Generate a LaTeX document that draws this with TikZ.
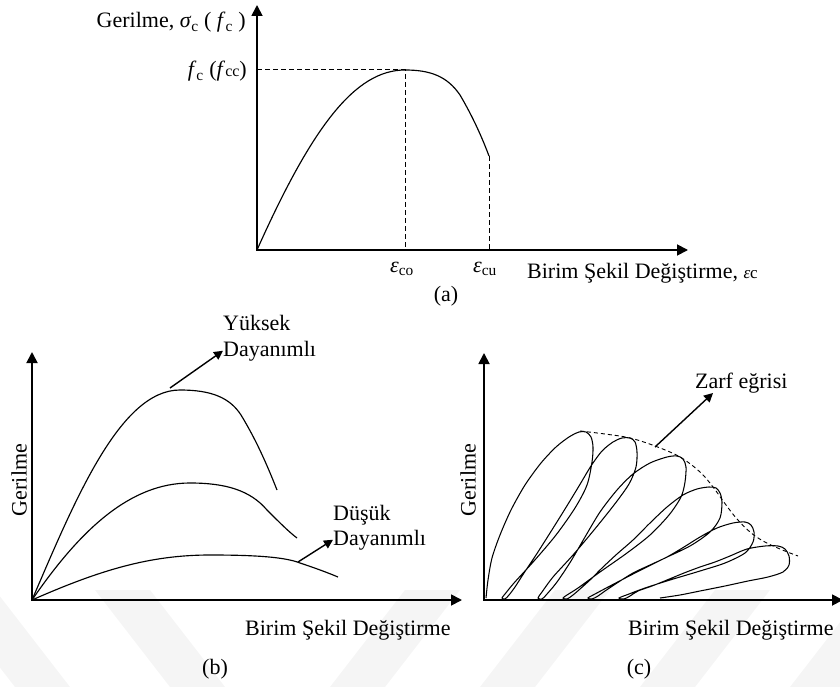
\documentclass[tikz,border=0pt]{standalone}
\usepackage{fontspec}
\setmainfont{Liberation Serif}
\usetikzlibrary{arrows.meta}
\begin{document}
\begin{tikzpicture}[x=1pt,y=-1pt,
  axes/.style={line width=1.8pt,{Triangle[length=11pt,width=11pt]}-{Triangle[length=11pt,width=11pt]}},
  curve/.style={line width=1.15pt},
  guide/.style={line width=1pt,dash pattern=on 5pt off 3pt},
  env/.style={line width=0.9pt,dash pattern=on 4pt off 3pt},
  lbl/.style={font=\fontsize{22}{26}\selectfont,inner sep=0pt},
  pointer/.style={line width=1.4pt,-{Triangle[length=9pt,width=9pt]}},
  wm/.style={fill=black!4,draw=none},
]
\useasboundingbox (0,0) rectangle (840,687);
% faint watermark bands
\fill[wm] (-60,590) -- (-5,590) -- (70,687) -- (15,687) -- cycle;
\fill[wm] (95,590) -- (150,590) -- (225,687) -- (170,687) -- cycle;
\fill[wm] (330,687) -- (385,687) -- (460,590) -- (405,590) -- cycle;
\fill[wm] (480,687) -- (535,687) -- (610,590) -- (555,590) -- cycle;
\fill[wm] (640,687) -- (695,687) -- (770,590) -- (715,590) -- cycle;
\fill[wm] (790,687) -- (845,687) -- (920,590) -- (865,590) -- cycle;

% ---------------- panel (a)
\coordinate (aY) at (257,5);
\coordinate (aO) at (257,250);
\coordinate (aX) at (688,250);
\coordinate (aP) at (405,70);
\coordinate (aE) at (489,156);
\coordinate (aF) at (257,70);
\coordinate (aC) at (405,250);
\coordinate (aU) at (489,250);
\draw[axes] (aY) -- (aO) -- (aX);
\draw[curve] (aO) .. controls (312,127) and (355,70) .. (aP)
  .. controls (430,70) and (447,76) .. (460,95)
  .. controls (470,112) and (480,132) .. (aE);
\draw[guide] (aF) -- (aP) -- (aC);
\draw[guide] (aE) -- (aU);
\node[lbl,anchor=base east] (aYl) at (246,28) {Gerilme, \textit{σ}\textsubscript{c} ( \textit{f}\textsubscript{c} )};
\node[lbl,anchor=base east] (aFl) at (247,77) {\textit{f}\textsubscript{c} (\textit{f}{\fontsize{16}{18}\selectfont cc})};
\node[lbl,anchor=base] (aCl) at (402,272) {\textit{ε}\textsubscript{co}};
\node[lbl,anchor=base] (aUl) at (485,272) {\textit{ε}\textsubscript{cu}};
\node[lbl,anchor=base west] (aXl) at (527,278) {Birim Şekil Değiştirme, {\fontsize{17}{20}\selectfont\textit{ε}c}};
\node[lbl,anchor=base] (aT) at (446,301) {(a)};

% ---------------- panel (b)
\coordinate (bY) at (32,352);
\coordinate (bO) at (32,600);
\coordinate (bX) at (462,600);
\draw[axes] (bY) -- (bO) -- (bX);
\coordinate (bH) at (180,390);
\coordinate (bM) at (190,483);
\coordinate (bL) at (210,555);
\draw[curve] (bO) .. controls (75,500) and (120,390) .. (bH)
  .. controls (212,390) and (230,398) .. (241,415)
  .. controls (255,438) and (266,462) .. (277,490);
\draw[curve] (bO) .. controls (80,530) and (130,483) .. (bM)
  .. controls (225,483) and (250,490) .. (267,510)
  .. controls (279,522) and (289,532) .. (297,538);
\draw[curve] (bO) .. controls (100,570) and (150,555) .. (bL)
  .. controls (255,555) and (285,557) .. (300,563)
  .. controls (315,568) and (326,572) .. (338,577);
\coordinate (bHs) at (170,388);
\coordinate (bLs) at (298,562);
\node[lbl,anchor=base west] (bH1) at (223,330) {Yüksek};
\node[lbl,anchor=base west] (bH2) at (223,356) {Dayanımlı};
\node[lbl,anchor=base west] (bL1) at (333,520) {Düşük};
\node[lbl,anchor=base west] (bL2) at (333,545) {Dayanımlı};
\draw[pointer] (bHs) -- (bH2.west);
\draw[pointer] (bLs) -- (bL2.west);
\node[lbl,rotate=90] (bYl) at (19,480) {Gerilme};
\node[lbl,anchor=base west] (bXl) at (245,635) {Birim Şekil Değiştirme};
\node[lbl,anchor=base] (bT) at (215,674) {(b)};

% ---------------- panel (c)
\coordinate (cY) at (484,353);
\coordinate (cO) at (484,600);
\coordinate (cX) at (843,600);
\draw[axes] (cY) -- (cO) -- (cX);
\draw[curve,line width=1.05pt] plot[smooth,tension=0.5] coordinates {
 (486,598) (488,580) (492,558) (500,535) (511,510) (525,485) (541,463) (556,447) (569,437) (579,432)
 (586,432) (591,437) (593,447)
 (592,462) (587,485) (575,508) (556,535) (534,561) (514,583) (505,594)
 (502,598) (505,599) (509,595)
 (515,587) (524,573) (536,555) (550,533) (565,509) (579,486) (591,466) (602,451) (613,442) (622,438)
 (630,438) (635,442) (637,452)
 (636,467) (629,484) (614,505) (594,530) (573,555) (553,577) (542,592)
 (538,598) (542,599) (547,594)
 (557,582) (571,561) (585,537) (600,512) (617,490) (633,474) (650,463) (667,457) (677,456)
 (683,459) (686,467)
 (685,482) (681,497) (669,515) (650,535) (627,553) (600,572) (578,588) (567,595)
 (563,598) (567,599) (573,595)
 (580,589) (590,580) (602,568) (617,554) (633,540) (650,523) (667,507) (683,495) (697,489) (709,487)
 (716,488) (720,493) (722,502)
 (720,518) (710,532) (690,546) (663,559) (635,573) (610,586) (595,594)
 (588,598) (592,599) (598,596)
 (605,591) (617,583) (633,573) (650,565) (667,557) (684,547) (700,537) (717,528) (733,523) (745,522)
 (751,525) (754,532) (753,542)
 (745,553) (725,563) (700,571) (670,580) (645,588) (629,594)
 (619,598) (624,599) (630,596)
 (638,591) (652,586) (667,580) (684,573) (700,567) (715,562) (730,556) (747,549) (765,546) (778,546)
 (785,549) (789,556) (789,565)
 (783,572) (768,577) (748,581) (725,586) (700,591) (680,595) (660,598)};
\draw[env] plot[smooth,tension=0.6] coordinates {(580,431) (605,434) (630,438) (655,446) (680,457) (700,472) (713,487) (726,505) (737,519) (750,532) (763,541) (780,549) (798,556)};
\coordinate (cEs) at (655,447);
\node[lbl,anchor=base west] (cZ) at (695,388) {Zarf eğrisi};
\coordinate (cZt) at (713,393);
\draw[pointer] (cEs) -- (cZt);
\node[lbl,rotate=90] (cYl) at (468,480) {Gerilme};
\node[lbl,anchor=base west] (cXl) at (628,635) {Birim Şekil Değiştirme};
\node[lbl,anchor=base] (cT) at (639,674) {(c)};
\end{tikzpicture}
\end{document}
